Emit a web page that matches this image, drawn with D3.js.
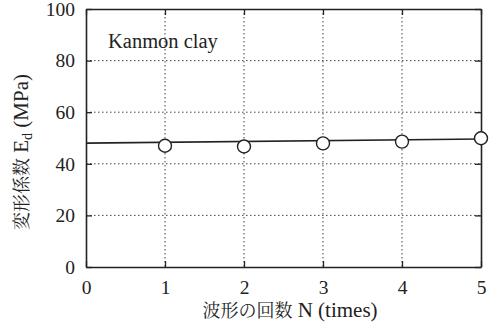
<!DOCTYPE html>
<html><head><meta charset="utf-8">
<script src="https://cdn.jsdelivr.net/npm/d3@7"></script>
<style>body{margin:0;background:#fff}svg{display:block}</style>
</head><body><svg id="c" width="490" height="325"></svg>
<script>
const nValues = [1, 2, 3, 4, 5];
const edValues = [47.0, 46.7, 47.9, 48.6, 49.9];
const fitX = [0, 5];
const fitY = [48.0, 49.6];
const xTicks = [0, 1, 2, 3, 4, 5];
const yTicks = [0, 20, 40, 60, 80, 100];
const label = "Kanmon clay";

const SERIF = '"Liberation Serif"';
const CJK = '"Noto Serif CJK JP"';
const svg = d3.select("#c");
const L = 86, R = 481, T = 9, B = 267;
const x = d3.scaleLinear().domain([0, 5]).range([L, R]);
const y = d3.scaleLinear().domain([0, 100]).range([B, T]);

// grid
const g = svg.append("g");
g.selectAll("line.gx").data(xTicks.filter(d => d > 0 && d < 5)).join("line")
  .attr("x1", d => x(d)).attr("x2", d => x(d)).attr("y1", T).attr("y2", B)
  .attr("stroke", "#444").attr("stroke-width", 1).attr("stroke-dasharray", "1.5,2.5");
g.selectAll("line.gy").data(yTicks.filter(d => d > 0 && d < 100)).join("line")
  .attr("x1", L).attr("x2", R).attr("y1", d => y(d)).attr("y2", d => y(d))
  .attr("stroke", "#444").attr("stroke-width", 1).attr("stroke-dasharray", "1.5,2.5");

// axes with inward ticks
const tickLen = 6;
const fmt = d3.format("d");
const ax = svg.append("g").attr("transform", `translate(0,${B})`)
  .call(d3.axisBottom(x).tickValues(xTicks).tickFormat(fmt).tickSizeInner(-tickLen).tickSizeOuter(0).tickPadding(13));
const ay = svg.append("g").attr("transform", `translate(${L},0)`)
  .call(d3.axisLeft(y).tickValues(yTicks).tickFormat(fmt).tickSizeInner(-tickLen).tickSizeOuter(0).tickPadding(11));
const at = svg.append("g").attr("transform", `translate(0,${T})`)
  .call(d3.axisTop(x).tickValues(xTicks).tickSizeInner(-tickLen).tickSizeOuter(0).tickFormat(""));
const ar = svg.append("g").attr("transform", `translate(${R},0)`)
  .call(d3.axisRight(y).tickValues(yTicks).tickSizeInner(-tickLen).tickSizeOuter(0).tickFormat(""));
[ax, ay, at, ar].forEach(a => {
  a.select(".domain").attr("stroke", "#222").attr("stroke-width", 1.6);
  a.selectAll(".tick line").attr("stroke", "#222").attr("stroke-width", 1.3);
  a.selectAll(".tick text").attr("fill", "#222")
    .attr("font-family", null).attr("font-size", null)
    .style("font-family", SERIF).style("font-size", "19.5px");
});

// fit line
svg.append("line")
  .attr("x1", x(fitX[0])).attr("y1", y(fitY[0]))
  .attr("x2", x(fitX[1])).attr("y2", y(fitY[1]))
  .attr("stroke", "#222").attr("stroke-width", 1.6);

// points
svg.selectAll("circle.pt").data(nValues).join("circle")
  .attr("cx", d => x(d)).attr("cy", (d, i) => y(edValues[i])).attr("r", 6.5)
  .attr("fill", "#fff").attr("stroke", "#222").attr("stroke-width", 1.4);

// label
svg.append("text").attr("x", 108).attr("y", 48).text(label)
  .style("font-family", SERIF).style("font-size", "20.5px").attr("fill", "#222");

// x title
const xt = svg.append("text").attr("x", 290).attr("y", 317).attr("text-anchor", "middle").attr("fill", "#222");
xt.append("tspan").style("font-family", CJK).style("font-size", "18px").text("波形の回数");
xt.append("tspan").style("font-family", SERIF).style("font-size", "21px").text(" N (times)");

// y title
const yt = svg.append("text").attr("transform", "translate(28,152) rotate(-90)")
  .attr("text-anchor", "middle").attr("fill", "#222");
yt.append("tspan").style("font-family", CJK).style("font-size", "18px").text("変形係数");
yt.append("tspan").style("font-family", SERIF).style("font-size", "21px").text(" E");
yt.append("tspan").style("font-family", SERIF).style("font-size", "14px").attr("dy", 4).text("d");
yt.append("tspan").style("font-family", SERIF).style("font-size", "21px").attr("dy", -4).text(" (MPa)");
</script></body></html>
